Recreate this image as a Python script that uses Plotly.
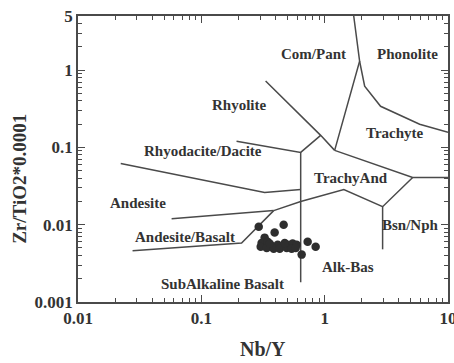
import math
import plotly.graph_objects as go

# Sample data (Nb/Y, Zr/TiO2*0.0001)
nb_y = [0.292, 0.465, 0.393, 0.326, 0.308, 0.345, 0.372, 0.416, 0.456, 0.501,
        0.550, 0.593, 0.303, 0.339, 0.386, 0.432, 0.492, 0.540, 0.582, 0.728,
        0.845, 0.651, 0.358, 0.474]
zr_ti = [0.0094, 0.0100, 0.0079, 0.0068, 0.0058, 0.0060, 0.0053, 0.0055, 0.0053, 0.0055,
         0.0057, 0.0055, 0.0052, 0.0050, 0.0049, 0.0049, 0.0050, 0.0049, 0.0050, 0.0060,
         0.0052, 0.0041, 0.0057, 0.0058]

# Field boundaries (Winchester & Floyd), data units
rhy_compant_x = [0.332, 0.928, 1.205]
rhy_compant_y = [0.720, 0.143, 0.0914]
rhyodac_top_x = [0.193, 0.639, 0.928]
rhyodac_top_y = [0.1197, 0.0861, 0.143]
compant_tra_x = [1.205, 1.92, 1.72]
compant_tra_y = [0.0914, 1.30, 5.0]
phon_tra_x = [1.92, 2.11, 2.84, 5.89, 10.0]
phon_tra_y = [1.30, 0.620, 0.340, 0.199, 0.157]
tra_trand_x = [1.205, 5.17, 10.0]
tra_trand_y = [0.0914, 0.0408, 0.0408]
trand_low_x = [5.17, 2.95, 1.43, 0.639, 0.386]
trand_low_y = [0.0408, 0.0171, 0.0285, 0.0199, 0.0152]
bsn_vert_x = [2.95, 2.95]
bsn_vert_y = [0.0171, 0.0048]
alk_vert_x = [0.639, 0.639]
alk_vert_y = [0.0861, 0.0018]
rhyodac_and_x = [0.0222, 0.326, 0.639]
rhyodac_and_y = [0.0620, 0.0260, 0.0285]
and_andbas_x = [0.0574, 0.386]
and_andbas_y = [0.0119, 0.0152]
andbas_sub_x = [0.0277, 0.212, 0.386]
andbas_sub_y = [0.0046, 0.0058, 0.0152]

field_names = ["Com/Pant", "Phonolite", "Rhyolite", "Trachyte", "Rhyodacite/Dacite",
               "TrachyAnd", "Andesite", "Bsn/Nph", "Andesite/Basalt", "Alk-Bas",
               "SubAlkaline Basalt"]
field_x = [0.814, 4.71, 0.205, 3.70, 0.1025, 1.62, 0.0304, 4.98, 0.0732, 1.54, 0.149]
field_y = [1.61, 1.61, 0.351, 0.152, 0.0887, 0.0396, 0.0193, 0.0100, 0.00698, 0.00285, 0.00171]

x_ticks = [0.01, 0.1, 1, 10]
x_ticktext = ["0.01", "0.1", "1", "10"]
y_ticks = [0.001, 0.01, 0.1, 1, 5]
y_ticktext = ["0.001", "0.01", "0.1", "1", "5"]

LINE = "#4a4a4a"
TXT = "#333333"
FONT = "Liberation Serif"

fig = go.Figure()
segments = [
    (rhy_compant_x, rhy_compant_y), (rhyodac_top_x, rhyodac_top_y),
    (compant_tra_x, compant_tra_y), (phon_tra_x, phon_tra_y),
    (tra_trand_x, tra_trand_y), (trand_low_x, trand_low_y),
    (bsn_vert_x, bsn_vert_y), (alk_vert_x, alk_vert_y),
    (rhyodac_and_x, rhyodac_and_y), (and_andbas_x, and_andbas_y),
    (andbas_sub_x, andbas_sub_y),
]
for sx, sy in segments:
    fig.add_trace(go.Scatter(x=sx, y=sy, mode="lines",
                             line=dict(color=LINE, width=1.5),
                             showlegend=False, hoverinfo="skip"))

fig.add_trace(go.Scatter(x=nb_y, y=zr_ti, mode="markers",
                         marker=dict(color="#2e2e2e", size=8.5),
                         showlegend=False))

for name, fx, fy in zip(field_names, field_x, field_y):
    fig.add_annotation(x=math.log10(fx), y=math.log10(fy), xref="x", yref="y",
                       text=f"<b>{name}</b>",
                       showarrow=False, font=dict(family=FONT, size=15, color=TXT),
                       xanchor="center", yanchor="middle")

def minor_vals(lo_exp, hi_exp, top=None):
    vals = []
    for e in range(lo_exp, hi_exp + 1):
        for m in range(2, 10):
            v = m * 10 ** e
            if top is None or v < top:
                vals.append(v)
    return vals

axis_common = dict(
    type="log", showline=True, linecolor=LINE, linewidth=1.5, mirror="allticks",
    ticks="inside", ticklen=7, tickwidth=1.2, tickcolor=LINE, showgrid=False,
    zeroline=False, tickfont=dict(family=FONT, size=17, color=TXT),
    ticklabeloverflow="allow", automargin=False,
)

fig.update_xaxes(**axis_common, range=[-2, 1], tickmode="array", tickvals=x_ticks,
                 ticktext=[f"<b>{t}</b>" for t in x_ticktext],
                 minor=dict(tickmode="array", tickvals=minor_vals(-2, 0), ticks="inside",
                            ticklen=4, tickcolor=LINE, tickwidth=1))
fig.update_yaxes(**axis_common, range=[-3, 0.69897], tickmode="array", tickvals=y_ticks,
                 ticktext=[f"<b>{t}</b>" for t in y_ticktext],
                 minor=dict(tickmode="array", tickvals=minor_vals(-3, 0, top=5), ticks="inside",
                            ticklen=4, tickcolor=LINE, tickwidth=1))

fig.add_annotation(x=-0.16, y=0.43, xref="paper", yref="paper",
                   text="<b>Zr/TiO2*0.0001</b>", textangle=-90, showarrow=False,
                   xanchor="center", yanchor="middle",
                   font=dict(family=FONT, size=19, color=TXT))
fig.add_annotation(x=0.5, y=-0.165, xref="paper", yref="paper",
                   text="<b>Nb/Y</b>", showarrow=False, yanchor="middle",
                   font=dict(family=FONT, size=20, color=TXT))

fig.update_layout(width=454, height=363, margin=dict(l=78, r=6, t=16, b=61),
                  paper_bgcolor="white", plot_bgcolor="white")

fig.write_html("out.html")
